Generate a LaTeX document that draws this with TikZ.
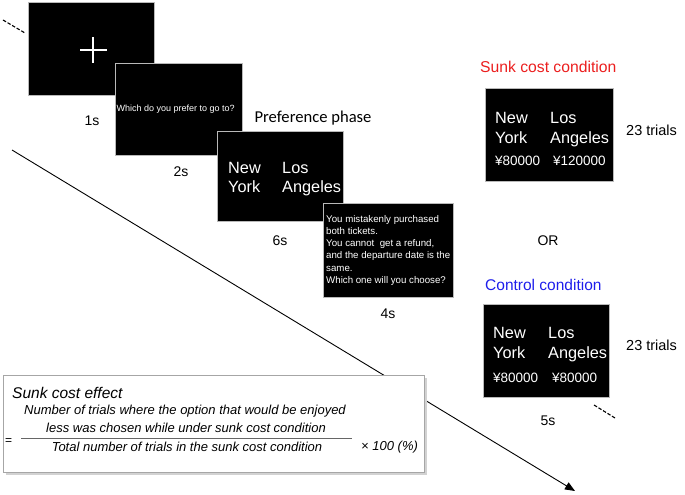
\documentclass[tikz,border=0pt]{standalone}
\usepackage{fontspec}
\setmainfont{Liberation Sans}
\newfontfamily\carlfont{Carlito}
\usetikzlibrary{arrows.meta}
\begin{document}
\begin{tikzpicture}[x=1pt,y=-1pt,
  screen/.style={draw=gray!55, fill=black, line width=0.7pt, inner sep=0, anchor=north west},
  wt/.style={text=white, inner sep=0, anchor=base west},
  bigw/.style={wt, font=\fontsize{16.3}{18}\selectfont},
  pricew/.style={wt, font=\fontsize{13.5}{16}\selectfont},
  lbl/.style={inner sep=0, anchor=base, font=\fontsize{14}{16}\selectfont},
  fm/.style={inner sep=0, anchor=base, font=\fontsize{13}{15}\selectfont\itshape},
  dsh/.style={dash pattern=on 3.5pt off 1.8pt, line width=1.1pt}
]
\useasboundingbox (0,0) rectangle (685,495);

% time arrow
\coordinate (aS) at (12,150);
\coordinate (aE) at (575,491);
\draw[line width=0.9pt, -{Triangle[length=10pt,width=8pt]}] (aS) -- (aE);

% dashed continuation marks
\coordinate (d1a) at (3,20); \coordinate (d1b) at (25,33);
\draw[dsh] (d1a) -- (d1b);
\coordinate (d2a) at (594,405); \coordinate (d2b) at (615,418);
\draw[dsh] (d2a) -- (d2b);

% screen 1: fixation
\node[screen, minimum width=126pt, minimum height=93pt] (s1) at (28,2) {};
\draw[white, line width=2.8pt] (80,50) -- (107,50) (93,37) -- (93,63);
\node[lbl] (t1) at (92,125) {1s};

% screen 2
\node[screen, minimum width=127pt, minimum height=92pt] (s2) at (115,63) {};
\node[wt, font=\fontsize{9}{11}\selectfont] (q2) at (116.5,111) {Which do you prefer to go to?};
\node[lbl] (t2) at (181,176) {2s};

% preference phase
\node[inner sep=0, font=\carlfont\fontsize{16.6}{18}\selectfont] (pp) at (313,118) {Preference phase};

% screen 3
\node[screen, minimum width=126pt, minimum height=90pt] (s3) at (217,131) {};
\node[bigw] (n3a) at (228,173) {New};
\node[bigw] (n3b) at (228,192) {York};
\node[bigw] (l3a) at (282,173) {Los};
\node[bigw] (l3b) at (282,192) {Angeles};
\node[lbl] (t3) at (280,245) {6s};

% screen 4
\node[screen, minimum width=130pt, minimum height=94pt] (s4) at (323,203) {};
\node[wt, align=left, anchor=north west, font=\fontsize{9.7}{12.2}\selectfont] (m4) at (326,215)
  {You mistakenly purchased\\both tickets.\\You cannot\ \ get a refund,\\and the departure date is the\\same.\\Which one will you choose?};
\node[lbl] (t4) at (388,318) {4s};

% OR
\node[lbl] (or) at (548,245) {OR};

% sunk cost condition
\node[inner sep=0, anchor=base west, text={rgb,255:red,235;green,30;blue,30}, font=\fontsize{15.7}{17}\selectfont] (sc) at (480,72.5) {Sunk cost condition};
\node[screen, minimum width=128pt, minimum height=93pt] (s5) at (485,88) {};
\node[bigw] (n5a) at (495,123.5) {New};
\node[bigw] (n5b) at (495,143.5) {York};
\node[bigw] (l5a) at (550,123.5) {Los};
\node[bigw] (l5b) at (550,143.5) {Angeles};
\node[pricew] (p5a) at (495,165) {¥80000};
\node[pricew] (p5b) at (553,165) {¥120000};
\node[inner sep=0, anchor=base west, font=\fontsize{14.5}{16}\selectfont] (tr1) at (626,135) {23 trials};

% control condition
\node[inner sep=0, anchor=base west, text={rgb,255:red,30;green,30;blue,235}, font=\fontsize{15.5}{17}\selectfont] (cc) at (485,290.5) {Control condition};
\node[screen, minimum width=126pt, minimum height=93pt] (s6) at (483,304) {};
\node[bigw] (n6a) at (493,338.5) {New};
\node[bigw] (n6b) at (493,358.5) {York};
\node[bigw] (l6a) at (548,338.5) {Los};
\node[bigw] (l6b) at (548,358.5) {Angeles};
\node[pricew] (p6a) at (493,382) {¥80000};
\node[pricew] (p6b) at (552,382) {¥80000};
\node[inner sep=0, anchor=base west, font=\fontsize{14.5}{16}\selectfont] (tr2) at (626,350) {23 trials};
\node[lbl] (t6) at (548,425) {5s};

% formula box
\fill[gray!35] (5.5,377.5) rectangle (426.5,474.5);
\node[draw=gray!70, fill=white, line width=0.8pt, inner sep=0, anchor=north west, minimum width=421pt, minimum height=97pt] (fb) at (3,375) {};
\node[inner sep=0, anchor=base west, font=\fontsize{15.5}{17}\selectfont\itshape] (fe) at (12,398.5) {Sunk cost effect};
\node[fm] (f1) at (185,414.5) {Number of trials where the option that would be enjoyed};
\node[fm] (f2) at (186,432.5) {less was chosen while under sunk cost condition};
\coordinate (rl) at (21,438.5); \coordinate (rr) at (352,438.5);
\draw[gray!80!black, line width=0.7pt] (rl) -- (rr);
\node[fm] (f3) at (187,451.5) {Total number of trials in the sunk cost condition};
\node[inner sep=0, anchor=base west, font=\fontsize{12}{13}\selectfont] (eq) at (5,444.5) {=};
\node[inner sep=0, anchor=base west, font=\fontsize{13}{15}\selectfont\itshape] (x100) at (361,450.5) {× 100 (\%)};
\end{tikzpicture}
\end{document}
